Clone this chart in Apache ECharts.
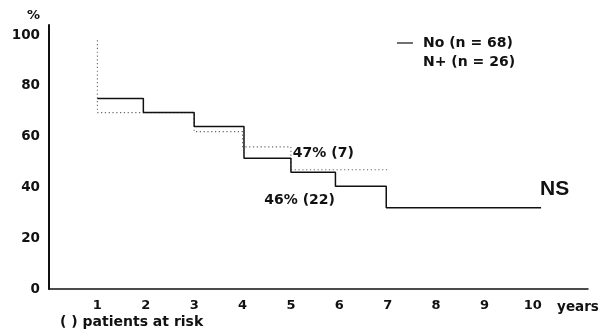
<!DOCTYPE html>
<html>
<head>
<meta charset="utf-8">
<script src="https://cdn.jsdelivr.net/npm/echarts@6/dist/echarts.min.js"></script>
<style>
  html, body { margin: 0; padding: 0; background: #fff; }
  #chart { width: 602px; height: 333px; }
</style>
</head>
<body>
<div id="chart"></div>
<script>
// Survival (%) by year after surgery, step curves
const yearTicks = [1, 2, 3, 4, 5, 6, 7, 8, 9, 10];
const percentTicks = [0, 20, 40, 60, 80, 100];

// node-negative group: [year, survival %]
const noNodesYears = [1, 1.95, 3, 4.03, 5, 5.92, 6.97, 10.17];
const noNodesValues = [75, 69.5, 64, 51.5, 46, 40.5, 32, 32];

// node-positive group: [year, survival %]
const posNodesYears = [1, 1, 3, 4, 5, 7];
const posNodesValues = [98, 69.5, 62, 56, 47, 47];

const legendNames = ['No (n = 68)', 'N+ (n = 26)'];
const notes = [
  { text: '47% (7)', at: [5.04, 53.5] },
  { text: '46% (22)', at: [4.45, 35.0] },
  { text: 'NS', at: [10.15, 39.5] }
];

const FONT = 'DejaVu Sans';
const INK = '#111';

const pairs = (xs, ys) => xs.map((x, i) => [x, ys[i]]);

const chart = echarts.init(document.getElementById('chart'), null, { renderer: 'canvas' });

chart.setOption({
  animation: false,
  backgroundColor: '#fff',
  grid: { left: 49, top: 25, width: 539, height: 264, containLabel: false },
  xAxis: {
    type: 'value',
    min: 0,
    max: 11.14,
    interval: 1,
    splitLine: { show: false },
    axisTick: { show: false },
    axisLine: { lineStyle: { color: INK, width: 1.5 } },
    axisLabel: {
      color: INK, fontFamily: FONT, fontWeight: 'bold', fontSize: 13, margin: 10,
      formatter: v => (yearTicks.indexOf(v) >= 0 ? String(v) : '')
    }
  },
  yAxis: {
    type: 'value',
    min: 0,
    max: 104,
    interval: 20,
    splitLine: { show: false },
    axisTick: { show: false },
    axisLine: { show: true, lineStyle: { color: INK, width: 2 } },
    axisLabel: {
      color: INK, fontFamily: FONT, fontWeight: 'bold', fontSize: 13.5, margin: 9,
      formatter: v => (percentTicks.indexOf(v) >= 0 ? String(v) : '')
    }
  },
  series: [
    {
      name: legendNames[0],
      type: 'line',
      step: 'end',
      symbol: 'none',
      data: pairs(noNodesYears, noNodesValues),
      lineStyle: { color: INK, width: 1.5 },
      z: 3
    },
    {
      name: legendNames[1],
      type: 'line',
      step: 'end',
      symbol: 'none',
      data: pairs(posNodesYears, posNodesValues),
      lineStyle: { color: '#666', width: 1.1, type: [1.2, 2.6] },
      z: 2
    }
  ]
});

// Annotations and legend, placed from data coordinates
const px = p => chart.convertToPixel({ gridIndex: 0 }, p);
const textStyle = (t, size, align) => ({
  text: t, fill: INK, font: 'bold ' + size + 'px "' + FONT + '"',
  textAlign: align || 'left', textVerticalAlign: 'middle'
});

const graphics = [];
notes.forEach(n => {
  const p = px(n.at);
  const isNS = n.text === 'NS';
  graphics.push({
    type: 'text', x: p[0], y: p[1],
    style: isNS
      ? { text: n.text, fill: INK, font: 'bold 21px "Liberation Sans"', textAlign: 'left', textVerticalAlign: 'middle' }
      : textStyle(n.text, 14)
  });
});

// legend
graphics.push({ type: 'line', shape: { x1: 397, y1: 43, x2: 413, y2: 43 }, style: { stroke: INK, lineWidth: 1.2 } });
graphics.push({ type: 'text', x: 423, y: 43, style: textStyle(legendNames[0], 14) });
graphics.push({ type: 'text', x: 423, y: 62, style: textStyle(legendNames[1], 14) });

// axis captions
graphics.push({ type: 'text', x: 40, y: 16, style: textStyle('%', 13, 'right') });
graphics.push({ type: 'text', x: 578, y: 307, style: textStyle('years', 13.5, 'center') });
graphics.push({ type: 'text', x: 60, y: 322, style: textStyle('( ) patients at risk', 14) });

chart.setOption({ graphic: graphics });
</script>
</body>
</html>
